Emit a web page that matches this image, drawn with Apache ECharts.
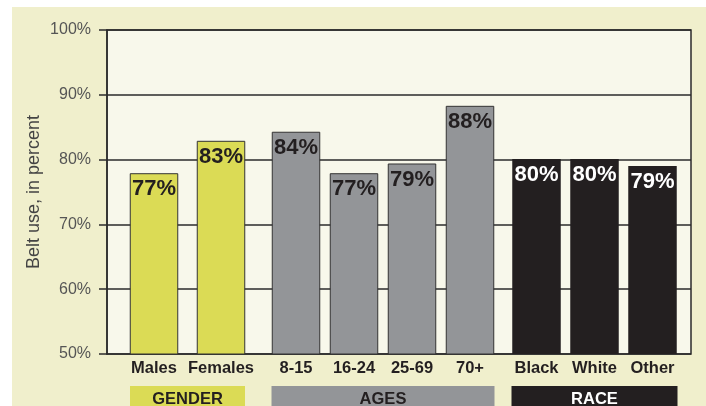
<!DOCTYPE html>
<html>
<head>
<meta charset="utf-8">
<script src="https://cdn.jsdelivr.net/npm/echarts@6/dist/echarts.min.js"></script>
<style>
html,body{margin:0;padding:0;background:#ffffff;}
#wrap{position:relative;width:706px;height:406px;overflow:hidden;background:#ffffff;}
#bg{position:absolute;left:12px;top:7px;width:694px;height:399px;background:#f0efcc;}
#chart{position:absolute;left:0;top:0;width:706px;height:406px;}
</style>
</head>
<body>
<div id="wrap"><div id="bg"></div><div id="chart"></div></div>
<script>
// ---- data ----
const genderCats = ['Males', 'Females'];
const genderVals = [77.9, 82.9];
const genderLabels = ['77%', '83%'];

const ageCats = ['8-15', '16-24', '25-69', '70+'];
const ageVals = [84.3, 77.9, 79.4, 88.3];
const ageLabels = ['84%', '77%', '79%', '88%'];

const raceCats = ['Black', 'White', 'Other'];
const raceVals = [80.1, 80.1, 79.0];
const raceLabels = ['80%', '80%', '79%'];

const groupNames = ['GENDER', 'AGES', 'RACE'];
const yAxisName = 'Belt use, in percent';
const yMin = 50, yMax = 100, yStep = 10;

// ---- styles ----
const FONT = "'Liberation Sans', Arial, Helvetica, sans-serif";
const DARK = '#231f20';
const groupColors = ['#dbdb55', '#939598', '#231f20'];
const groupTextColors = [DARK, DARK, '#ffffff'];
const groupBoxWidths = [115, 223, 166];
const grids = [
  { left: 107, right: 15, top: 30, bottom: 52, show: true, backgroundColor: '#f8f8eb', borderColor: '#2b2b2b', borderWidth: 1.5, outerBoundsMode: 'none', containLabel: false },
  { left: 120.5, width: 134, top: 30, bottom: 52, outerBoundsMode: 'none', containLabel: false },
  { left: 267, width: 232, top: 30, bottom: 52, outerBoundsMode: 'none', containLabel: false },
  { left: 507.5, width: 174, top: 30, bottom: 52, outerBoundsMode: 'none', containLabel: false }
];

const groups = [
  { cats: genderCats, vals: genderVals, labels: genderLabels },
  { cats: ageCats, vals: ageVals, labels: ageLabels },
  { cats: raceCats, vals: raceVals, labels: raceLabels }
];

const xAxes = [{ gridIndex: 0, type: 'value', show: false, min: 0, max: 1 }];
const yAxes = [{
  gridIndex: 0, type: 'value', min: yMin, max: yMax, interval: yStep,
  name: yAxisName, nameLocation: 'middle', nameGap: 64, nameRotate: 90, nameMoveOverlap: false,
  nameTextStyle: { fontFamily: FONT, fontSize: 18, color: '#444444' },
  axisLine: { show: true, lineStyle: { color: '#2b2b2b', width: 1.5 } },
  axisTick: { show: true, length: 8, lineStyle: { color: '#2b2b2b', width: 1.5 } },
  axisLabel: { formatter: '{value}%', margin: 16, fontFamily: FONT, fontSize: 16, color: '#555555' },
  splitLine: { show: true, lineStyle: { color: '#2b2b2b', width: 1.5 } }
}];
const series = [];

groups.forEach((g, i) => {
  const gi = i + 1;
  xAxes.push({
    gridIndex: gi, type: 'category', data: g.cats, position: 'bottom',
    axisLine: { show: false }, axisTick: { show: false },
    axisLabel: { interval: 0, margin: 6, fontFamily: FONT, fontSize: 16.5, fontWeight: 'bold', color: DARK }
  });
  yAxes.push({ gridIndex: gi, type: 'value', min: yMin, max: yMax, interval: yStep, show: false, splitLine: { show: false } });
  series.push({
    type: 'bar', xAxisIndex: xAxes.length - 1, yAxisIndex: gi,
    data: g.vals, barWidth: 48.5, z: 3,
    itemStyle: { color: groupColors[i], borderColor: i < 2 ? '#333333' : groupColors[i], borderWidth: i < 2 ? 1 : 0 },
    label: {
      show: true, position: 'insideTop', distance: 5,
      formatter: p => g.labels[p.dataIndex],
      fontFamily: FONT, fontSize: 22, fontWeight: 'bold', color: groupTextColors[i]
    },
    emphasis: { disabled: true }
  });
});

groups.forEach((g, i) => {
  xAxes.push({
    gridIndex: i + 1, type: 'category', data: [groupNames[i]], position: 'bottom',
    axisLine: { show: false }, axisTick: { show: false },
    axisLabel: {
      interval: 0, margin: 32, fontFamily: FONT, fontSize: 16.5, fontWeight: 'bold',
      color: groupTextColors[i], backgroundColor: groupColors[i],
      width: groupBoxWidths[i], height: 26, lineHeight: 26, align: 'center'
    }
  });
});

const chart = echarts.init(document.getElementById('chart'), null, { renderer: 'canvas' });
chart.setOption({
  animation: false,
  backgroundColor: 'transparent',
  grid: grids,
  xAxis: xAxes,
  yAxis: yAxes,
  series: series
});
</script>
</body>
</html>
